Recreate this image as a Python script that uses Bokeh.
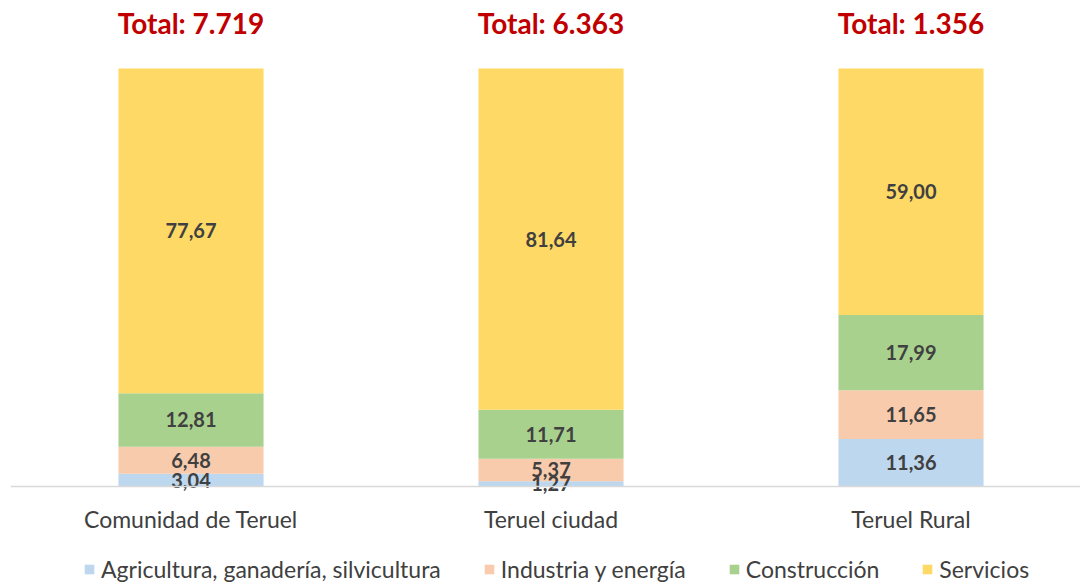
from bokeh.plotting import figure
from bokeh.models import ColumnDataSource, FixedTicker, Legend, LegendItem, Range1d
from bokeh.core.properties import value
from bokeh.embed import file_html
from bokeh.resources import INLINE

categories = ["Comunidad de Teruel", "Teruel ciudad", "Teruel Rural"]
totals = ["7.719", "6.363", "1.356"]
series = ["Agricultura, ganadería, silvicultura", "Industria y energía", "Construcción", "Servicios"]
agricultura = [3.04, 1.27, 11.36]
industria = [6.48, 5.37, 11.65]
construccion = [12.81, 11.71, 17.99]
servicios = [77.67, 81.64, 59.00]
colors = ["#BDD7EE", "#F8CBAD", "#A9D18E", "#FFD966"]

FONT = "Lato"
xs = list(range(len(categories)))

PX = 4.18  # pixels per percentage point
p = figure(frame_width=1070, frame_height=585, output_backend="svg", toolbar_location=None,
           x_range=Range1d(-0.5014, -0.5014 + 1070 / 360),
           y_range=Range1d(-99 / PX, 486 / PX),
           min_border_left=10, min_border_right=0, min_border_top=0, min_border_bottom=0)
p.outline_line_color = None
p.grid.visible = False
p.yaxis.visible = False
p.background_fill_color = "white"
p.border_fill_color = "white"

data = {"x": xs}
keys = ["agr", "ind", "con", "ser"]
vals = [agricultura, industria, construccion, servicios]
for k, v in zip(keys, vals):
    data[k] = v
src = ColumnDataSource(data)
renderers = p.vbar_stack(keys, x="x", width=0.403, color=colors, source=src, line_color=None)

# value labels
lx, ly, lt = [], [], []
for i in xs:
    base = 0.0
    for v in vals:
        seg = v[i]
        lx.append(i)
        ly.append(base + seg / 2)
        lt.append(f"{seg:.2f}".replace(".", ","))
        base += seg
p.text(x=lx, y=ly, text=lt, text_align="center", text_baseline="middle",
       text_font=value(FONT), text_font_style="bold", text_font_size="20px",
       text_color="#404040")

# totals
p.text(x=xs, y=[111.0] * 3, text=["Total: " + t for t in totals], text_align="center",
       text_baseline="middle", text_font=value(FONT), text_font_style="bold",
       text_font_size="28px", text_color="#C00000")

ax = p.xaxis[0]
ax.fixed_location = 0
ax.ticker = FixedTicker(ticks=xs)
ax.major_label_overrides = {i: c for i, c in zip(xs, categories)}
ax.axis_line_color = "#D9D9D9"
ax.axis_line_width = 1.5
ax.major_tick_line_color = None
ax.minor_tick_line_color = None
ax.major_tick_in = 0
ax.major_tick_out = 0
ax.major_label_standoff = 18
ax.major_label_text_font = FONT
ax.major_label_text_font_size = "23px"
ax.major_label_text_color = "#404040"

legend = Legend(items=[LegendItem(label=s, renderers=[r]) for s, r in zip(series, renderers)],
                orientation="horizontal", location=(73, 2),
                label_text_font=FONT, label_text_font_size="23px", label_text_color="#404040",
                glyph_width=12, glyph_height=12, spacing=42, label_standoff=6,
                label_height=14, border_line_color=None,
                background_fill_alpha=0, padding=0, margin=0)
p.add_layout(legend, "center")

open("out.html", "w").write(file_html(p, INLINE))
